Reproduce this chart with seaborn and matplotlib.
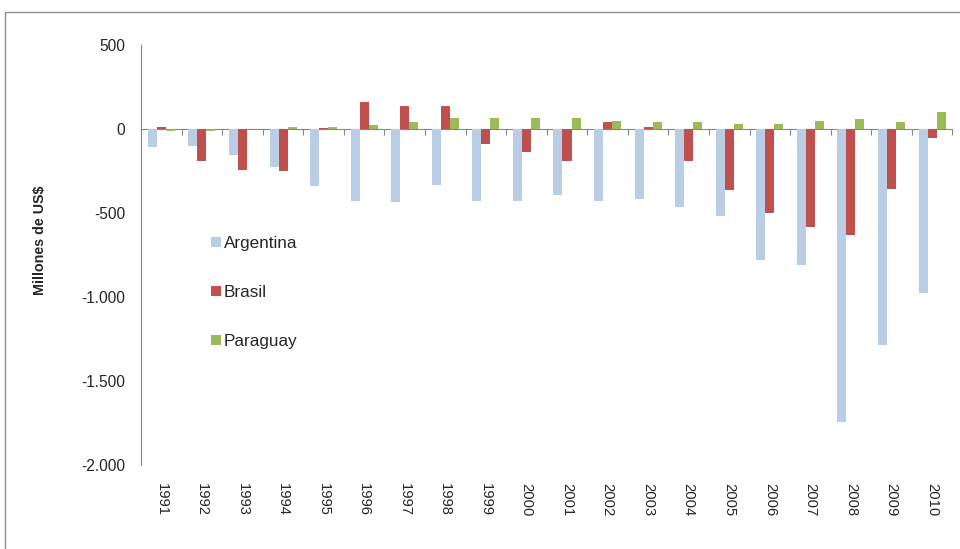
import pandas as pd
import seaborn as sns
import matplotlib.pyplot as plt
from matplotlib.patches import Rectangle
from matplotlib.ticker import FuncFormatter

# Data (millones de US$)
years = [str(y) for y in range(1991, 2011)]
argentina = [-110, -100, -153, -224, -341, -428, -437, -331, -428, -428,
             -393, -428, -419, -462, -516, -782, -808, -1746, -1285, -976]
brasil = [12, -189, -242, -250, 4, 162, 137, 137, -92, -137,
          -189, 39, 14, -189, -365, -500, -585, -631, -357, -56]
paraguay = [-14, -14, 3, 14, 12, 24, 39, 67, 67, 67,
            67, 49, 39, 39, 32, 32, 49, 57, 39, 103]
countries = ["Argentina", "Brasil", "Paraguay"]
colors = ["#B9CDE5", "#C0504D", "#9BBB59"]

df = pd.DataFrame({
    "year": years * 3,
    "value": argentina + brasil + paraguay,
    "country": [c for c in countries for _ in years],
})

sns.set_style("white")
plt.rcParams["font.family"] = ["Liberation Sans", "DejaVu Sans"]

fig, ax = plt.subplots(figsize=(9.6, 5.49), dpi=100)
fig.subplots_adjust(left=0.147, right=0.992, top=0.918, bottom=0.153)

sns.barplot(data=df, x="year", y="value", hue="country", palette=colors,
            width=0.667, saturation=1, ax=ax, edgecolor="none")

ax.set_ylim(-2000, 500)
ax.set_xlim(-0.5, len(years) - 0.5)
ax.set_yticks([500, 0, -500, -1000, -1500, -2000])
ax.yaxis.set_major_formatter(FuncFormatter(lambda v, p: f"{int(v):,}".replace(",", ".")))
ax.tick_params(axis="y", direction="out", length=3.5, color="#868686", pad=8, labelsize=11.2)
ax.tick_params(axis="x", length=0, pad=13, labelsize=10.6, labelrotation=270)
for lbl in ax.get_xticklabels():
    lbl.set_va("top")
    lbl.set_ha("center")

for s in ["top", "right", "bottom"]:
    ax.spines[s].set_visible(False)
ax.spines["left"].set_color("#868686")

# zero line with category separator ticks
sec = ax.secondary_xaxis(0.8)
sec.set_alignment("bottom")
sec.set_xticks([i - 0.5 for i in range(len(years) + 1)])
sec.set_xticklabels([])
sec.tick_params(direction="out", length=4, color="#868686")
sec.spines["bottom"].set_color("#868686")

ax.set_xlabel("")
ax.set_ylabel("Millones de US$", fontsize=10.3, fontweight="bold")
ax.yaxis.set_label_coords(-0.116, 0.535)

leg = ax.legend(loc="center left", bbox_to_anchor=(0.067, 0.41), frameon=False,
                fontsize=12.3, handlelength=0.45, handleheight=0.45,
                handletextpad=0.3, labelspacing=2.0)
for h in leg.legend_handles:
    h.set_width(7)
    h.set_height(7)

fig.add_artist(Rectangle((5 / 960, -0.1), 1.1, 1 - 12 / 549 + 0.1,
                         transform=fig.transFigure, fill=False,
                         edgecolor="#8c8c8c", lw=1))

plt.savefig("out.png", dpi=100)
